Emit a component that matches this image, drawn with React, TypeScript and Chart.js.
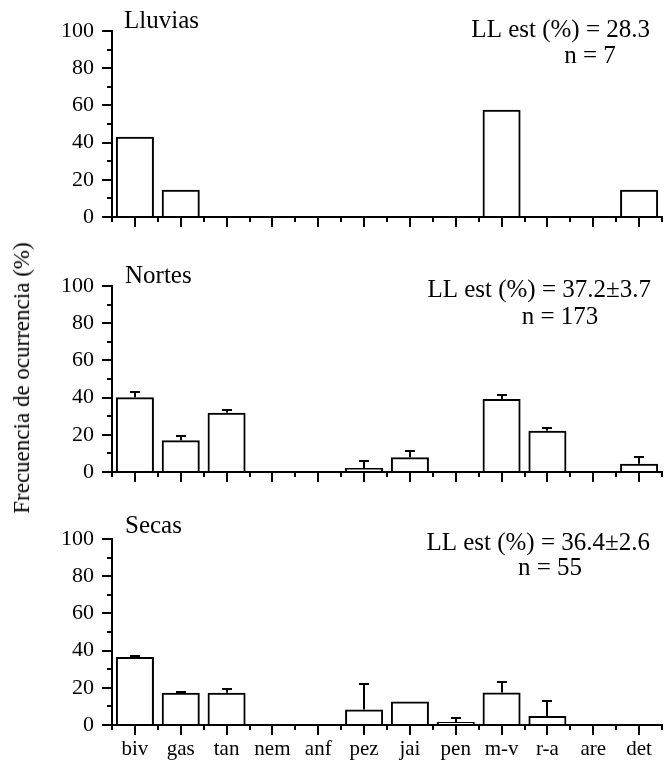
import React, { useEffect, useRef } from 'react';
import { Chart, registerables } from 'chart.js';

Chart.register(...registerables);

// ---------- data ----------
const categories = ['biv', 'gas', 'tan', 'nem', 'anf', 'pez', 'jai', 'pen', 'm-v', 'r-a', 'are', 'det'];

const lluviasValues = [43.1, 14.7, 0, 0, 0, 0, 0, 0, 57.7, 0, 0, 14.7];
const lluviasErrors = [0, 0, 0, 0, 0, 0, 0, 0, 0, 0, 0, 0];

const nortesValues = [40.2, 17.1, 31.9, 0, 0, 2.2, 7.9, 0, 39.3, 22.2, 0.3, 4.5];
const nortesErrors = [2.7, 2.0, 1.2, 0, 0, 3.9, 3.6, 0, 2.1, 1.2, 0, 3.6];

const secasValues = [36.6, 17.3, 17.3, 0, 0.4, 8.3, 12.6, 1.6, 17.5, 4.9, 0.3, 0];
const secasErrors = [0.3, 0.2, 1.8, 0, 0, 13.5, 0, 2.3, 5.4, 8.2, 0, 0];

const yTicks = [0, 20, 40, 60, 80, 100];
const yMinorTicks = [10, 30, 50, 70, 90];

const panelTitles = ['Lluvias', 'Nortes', 'Secas'];
const estTexts = ['LL est (%) = 28.3', 'LL est (%) = 37.2\u00B13.7', 'LL est (%) = 36.4\u00B12.6'];
const nTexts = ['n = 7', 'n = 173', 'n = 55'];
const yAxisTitle = 'Frecuencia de ocurrencia (%)';

const panelValues = [lluviasValues, nortesValues, secasValues];
const panelErrors = [lluviasErrors, nortesErrors, secasErrors];

// ---------- layout (page pixels) ----------
const FONT = '"Liberation Serif", "Times New Roman", serif';
const layouts = [
  { top: 0, h: 250, chartTop: 31, chartBottom: 217, titleX: 124, titleY: 28, estRight: 650, estY: 37, nX: 590, nY: 63, showX: false },
  { top: 250, h: 250, chartTop: 286, chartBottom: 472, titleX: 125, titleY: 283, estRight: 651, estY: 297, nX: 560, nY: 324, showX: false },
  { top: 500, h: 261, chartTop: 539, chartBottom: 725, titleX: 125, titleY: 533, estRight: 650, estY: 550, nX: 550, nY: 575, showX: true },
];

function makeDecorPlugin(idx: number) {
  const L = layouts[idx];
  const values = panelValues[idx];
  const errors = panelErrors[idx];
  return {
    id: 'decor' + idx,
    afterDatasetsDraw(chart: any) {
      const ctx = chart.ctx;
      const y = chart.scales.y;
      const meta = chart.getDatasetMeta(0);
      ctx.save();
      ctx.strokeStyle = '#000';
      ctx.lineWidth = 2;
      for (let i = 0; i < values.length; i++) {
        const e = errors[i];
        if (!e) continue;
        const bx = Math.round(meta.data[i].x);
        const y0 = y.getPixelForValue(values[i]);
        const y1 = Math.round(y.getPixelForValue(values[i] + e));
        ctx.beginPath();
        ctx.moveTo(bx, y0);
        ctx.lineTo(bx, y1);
        ctx.moveTo(bx - 5, y1);
        ctx.lineTo(bx + 5, y1);
        ctx.stroke();
      }
      ctx.restore();
    },
    afterDraw(chart: any) {
      const ctx = chart.ctx;
      const x = chart.scales.x;
      const y = chart.scales.y;
      ctx.save();
      ctx.strokeStyle = '#000';
      ctx.lineWidth = 2;
      // minor x ticks at category boundaries
      for (let i = 0; i <= categories.length; i++) {
        const px = Math.round(x.getPixelForValue(i - 0.5));
        ctx.beginPath();
        ctx.moveTo(px, y.bottom);
        ctx.lineTo(px, y.bottom + 5);
        ctx.stroke();
      }
      // minor y ticks
      for (const v of yMinorTicks) {
        const py = Math.round(y.getPixelForValue(v));
        ctx.beginPath();
        ctx.moveTo(x.left, py);
        ctx.lineTo(x.left - 5, py);
        ctx.stroke();
      }
      // texts
      ctx.fillStyle = '#000';
      ctx.textBaseline = 'alphabetic';
      ctx.font = '25px ' + FONT;
      ctx.textAlign = 'left';
      ctx.fillText(panelTitles[idx], L.titleX, L.titleY - L.top);
      ctx.textAlign = 'right';
      ctx.fillText(estTexts[idx], L.estRight, L.estY - L.top);
      ctx.textAlign = 'center';
      ctx.fillText(nTexts[idx], L.nX, L.nY - L.top);
      ctx.restore();
    },
  };
}

function Panel({ idx }: { idx: number }) {
  const ref = useRef<HTMLCanvasElement | null>(null);
  const L = layouts[idx];
  useEffect(() => {
    if (!ref.current) return;
    const padTop = L.chartTop - L.top;
    const xh = L.top + L.h - L.chartBottom;
    const chart = new Chart(ref.current, {
      type: 'bar',
      data: {
        labels: categories,
        datasets: [
          {
            data: panelValues[idx],
            backgroundColor: 'rgba(255,255,255,0)',
            borderColor: '#000',
            borderWidth: 2,
            barPercentage: 0.83,
            categoryPercentage: 1,
          },
        ],
      },
      options: {
        animation: false,
        responsive: false,
        devicePixelRatio: 1,
        layout: { padding: { top: padTop, left: 0, right: 2, bottom: 0 } },
        plugins: { legend: { display: false }, tooltip: { enabled: false }, title: { display: false } },
        scales: {
          x: {
            type: 'category',
            offset: true,
            grid: { offset: false, drawOnChartArea: false, drawTicks: true, tickLength: 10, color: '#000', lineWidth: 2 },
            border: { display: true, color: '#000', width: 2 },
            ticks: {
              display: L.showX,
              color: '#000',
              font: { family: FONT, size: 21 },
              padding: 2,
              maxRotation: 0,
              autoSkip: false,
            },
            afterFit: (s: any) => {
              s.height = xh;
            },
          },
          y: {
            min: 0,
            max: 100,
            afterBuildTicks: (s: any) => {
              s.ticks = yTicks.map((v) => ({ value: v }));
            },
            grid: { drawOnChartArea: false, drawTicks: true, tickLength: 10, color: '#000', lineWidth: 2 },
            border: { display: true, color: '#000', width: 2 },
            ticks: { color: '#000', font: { family: FONT, size: 22 }, padding: 8 },
            afterFit: (s: any) => {
              s.width = 112;
            },
          },
        },
      },
      plugins: [makeDecorPlugin(idx)],
    } as any);
    return () => chart.destroy();
  }, []);
  return (
    <canvas
      ref={ref}
      width={664}
      height={L.h}
      style={{ position: 'absolute', left: 0, top: L.top, width: 664, height: L.h, display: 'block' }}
    />
  );
}

export default function App() {
  return (
    <div style={{ position: 'absolute', left: 0, top: 0, width: 664, height: 761, background: '#fff', overflow: 'hidden' }}>
      <Panel idx={0} />
      <Panel idx={1} />
      <Panel idx={2} />
      <div
        style={{
          position: 'absolute',
          left: 22,
          top: 378,
          transform: 'translate(-50%, -50%) rotate(-90deg)',
          whiteSpace: 'nowrap',
          fontFamily: FONT,
          fontSize: 23,
          lineHeight: '28px',
          color: '#000',
        }}
      >
        {yAxisTitle}
      </div>
    </div>
  );
}
